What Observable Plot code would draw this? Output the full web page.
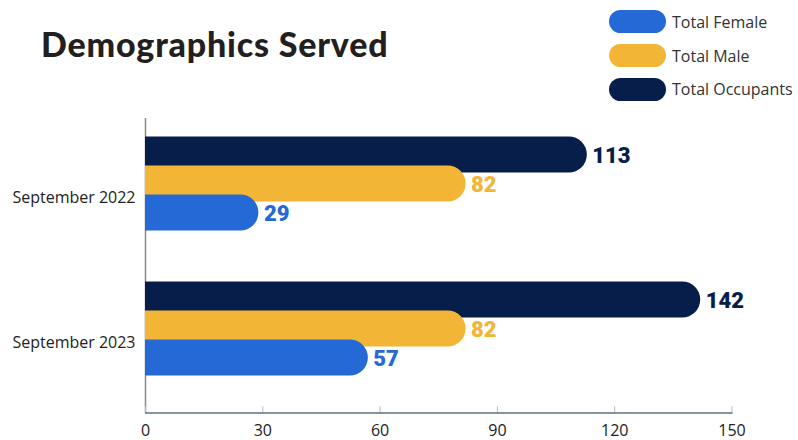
<!DOCTYPE html>
<html><head><meta charset="utf-8">
<script src="https://cdn.jsdelivr.net/npm/d3@7"></script>
<script src="https://cdn.jsdelivr.net/npm/@observablehq/plot@0.6"></script>
<style>
html,body{margin:0;padding:0;background:#fff;}
#wrap{position:relative;width:798px;height:440px;overflow:hidden;font-family:"Open Sans",sans-serif;}
#header{position:relative;height:110px;}
#title{position:absolute;left:41px;top:27px;font-family:"Lato",sans-serif;font-weight:900;font-size:34px;letter-spacing:0.8px;line-height:1;color:#231f20;white-space:nowrap;}
#legend{position:absolute;left:609px;top:5px;}
.item{display:flex;align-items:center;height:33.7px;}
.sw{width:57px;height:23px;border-radius:12px;margin-right:6px;}
.lab{font-size:16px;color:#333;white-space:nowrap;}
</style></head>
<body><div id="wrap"><div id="header"><div id="title"></div><div id="legend"></div></div><div id="chart"></div></div>
<script>
const titleText = "Demographics Served";
const periods = ["September 2022", "September 2023"];
const seriesNames = ["Total Female", "Total Male", "Total Occupants"];
const seriesColors = ["#2469d5", "#f2b535", "#081e4a"];
const femaleValues = [29, 57];
const maleValues = [82, 82];
const occupantValues = [113, 142];
const xTicks = [0, 30, 60, 90, 120, 150];

document.getElementById("title").textContent = titleText;
const legend = document.getElementById("legend");
seriesNames.forEach((s, i) => {
  const it = document.createElement("div"); it.className = "item";
  const sw = document.createElement("div"); sw.className = "sw"; sw.style.background = seriesColors[i];
  const lb = document.createElement("div"); lb.className = "lab"; lb.textContent = s;
  it.appendChild(sw); it.appendChild(lb); legend.appendChild(it);
});

const valuesBySeries = {"Total Female": femaleValues, "Total Male": maleValues, "Total Occupants": occupantValues};
const colorOf = Object.fromEntries(seriesNames.map((s, i) => [s, seriesColors[i]]));
const drawOrder = ["Total Occupants", "Total Male", "Total Female"];
const rows = [];
periods.forEach((p, pi) => drawOrder.forEach(s => rows.push({period: p, series: s, key: p + "|" + s, value: valuesBySeries[s][pi]})));
const yKeys = [];
periods.forEach((p, pi) => {
  drawOrder.forEach(s => yKeys.push(p + "|" + s));
  if (pi < periods.length - 1) { yKeys.push("gap" + pi + "a"); yKeys.push("gap" + pi + "b"); }
});

// rounded bars that start left of the frame; the frame clip squares off the left end
const barMarks = drawOrder.map(s => Plot.barX(rows.filter(r => r.series === s), {
  x1: -10, x2: "value", y: "key", fill: colorOf[s], rx: 18,
  insetTop: -3.5, insetBottom: -3.5, clip: "frame"
}));

const chart = Plot.plot({
  width: 798, height: 330,
  marginLeft: 145, marginRight: 66.5, marginTop: 8, marginBottom: 27.5,
  x: {domain: [0, 150], label: null},
  y: {type: "band", domain: yKeys, range: [28.3, 263], padding: 0, label: null},
  style: {fontFamily: "'Open Sans', sans-serif", fontSize: "16px", color: "#222", background: "#fff"},
  marks: [
    Plot.ruleX([0], {stroke: "#8a8a8a", strokeWidth: 1.5}),
    ...barMarks,
    Plot.text(rows, {x: "value", y: "key", text: r => String(r.value), dx: 5, dy: 1, textAnchor: "start",
      fill: r => colorOf[r.series], fontFamily: "Roboto", fontWeight: 900, fontSize: 22}),
    Plot.axisX({ticks: xTicks, tickSize: 6, dy: -6, tickFormat: () => "", stroke: "#bbb", label: null}),
    Plot.axisX({ticks: xTicks, tickSize: 0, tickPadding: 12, fill: "#222", fontSize: 16, label: null}),
    Plot.axisY({ticks: periods.map(p => p + "|Total Male"), tickSize: 0, tickPadding: 10,
      tickFormat: k => k.split("|")[0], dy: 14, fill: "#222", fontSize: 16, label: null}),
    Plot.frame({anchor: "bottom", stroke: "#14244a"})
  ]
});
document.getElementById("chart").appendChild(chart);
</script></body></html>
